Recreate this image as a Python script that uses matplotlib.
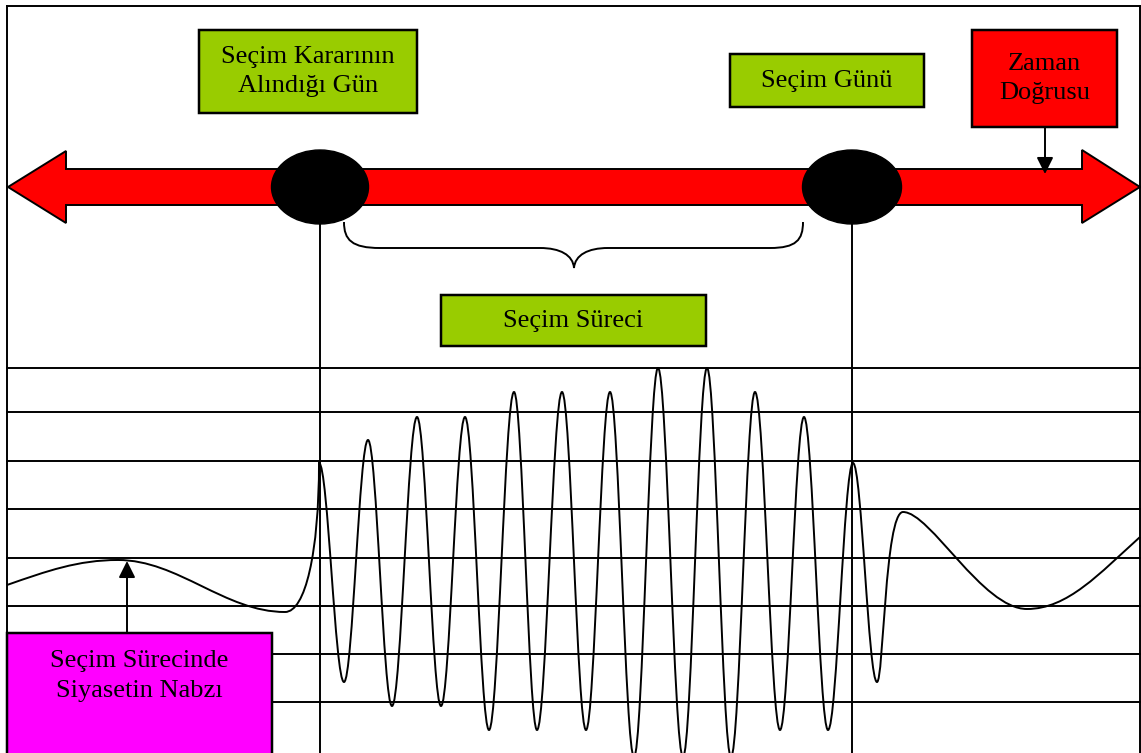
import matplotlib.pyplot as plt
from matplotlib.patches import Rectangle, Ellipse, Polygon, PathPatch
from matplotlib.path import Path

plt.rcParams['font.family'] = ['Liberation Serif', 'DejaVu Serif']

# diyagram pikselleri: x sağa, y aşağı doğru
W, H = 1141, 753

# yatay kılavuz çizgileri (y)
grid_y = [368, 412, 461, 509, 558, 606, 654, 702]
# dikey çizgiler: seçim kararı günü ve seçim günü
event_x = [320, 852]

# siyasetin nabzı eğrisi: uç noktalar (tepe / dip)
wave_x = [7, 118, 285, 319, 344, 368, 392, 417, 441, 465, 489, 514, 537, 562,
          586, 610, 634, 658, 683, 707, 731, 755, 780, 804, 828, 853, 877,
          903, 1027, 1140]
wave_y = [585, 560, 612, 463, 682, 440, 706, 417, 706, 417, 730, 392, 730, 392,
          730, 392, 757, 368, 757, 368, 757, 392, 730, 417, 730, 463, 682,
          512, 609, 537]
start_slope = -0.35
end_slope = -0.9

green = '#99CC00'
labels_green = ['Seçim Kararının\nAlındığı Gün', 'Seçim Günü', 'Seçim Süreci']
label_red = 'Zaman\nDoğrusu'
label_pink = 'Seçim Sürecinde\nSiyasetin Nabzı'

fig = plt.figure(figsize=(W / 100, H / 100), dpi=100)
ax = fig.add_axes([0, 0, 1, 1])
ax.set_xlim(0, W)
ax.set_ylim(H, 0)
ax.axis('off')

lw = 1.4

# çerçeve
ax.plot([7, 7], [H, 6], color='black', lw=lw)
ax.plot([7, 1140], [6, 6], color='black', lw=lw)
ax.plot([1140, 1140], [6, H], color='black', lw=lw)

for y in grid_y:
    ax.plot([7, 1140], [y, y], color='black', lw=lw, zorder=1)
for x in event_x:
    ax.plot([x, x], [222, H], color='black', lw=lw, zorder=1)

# eğri: uç noktalar arasında kübik Bezier, tepe/diplerde yatay teğet
k = 0.36
verts = [(wave_x[0], wave_y[0])]
codes = [Path.MOVETO]
n = len(wave_x)
for i in range(n - 1):
    x0, y0, x1, y1 = wave_x[i], wave_y[i], wave_x[i + 1], wave_y[i + 1]
    dx = x1 - x0
    s0 = start_slope if i == 0 else 0.0
    s1 = end_slope if i == n - 2 else 0.0
    c1 = (x0 + k * dx, y0 + s0 * k * dx)
    c2 = (x1 - k * dx, y1 - s1 * k * dx)
    if i == 2:
        # karar gününde ani yükseliş
        c1 = (x0 + 0.6 * dx, y0)
        c2 = (x1, y1 + 0.6 * (y0 - y1))
    elif i == n - 4:
        # seçimden sonra hızlı toparlanma, yuvarlak tepe
        c1 = (x0 + 0.25 * dx, y0)
        c2 = (x1 - 0.7 * dx, y1)
    elif i == n - 3:
        c1 = (x0 + 0.22 * dx, y0)
    verts += [c1, c2, (x1, y1)]
    codes += [Path.CURVE4] * 3
ax.add_patch(PathPatch(Path(verts, codes), fill=False, lw=lw, ec='black', zorder=2))

# zaman doğrusu (çift yönlü kırmızı ok)
arrow_pts = [(8, 187), (66, 151), (66, 169), (1082, 169), (1082, 150), (1140, 187),
             (1082, 223), (1082, 205), (66, 205), (66, 223)]
ax.add_patch(Polygon(arrow_pts, closed=True, fc='#FF0000', ec='black', lw=lw, zorder=3))

ax.add_patch(Ellipse((320, 187), 97, 74, fc='black', ec='black', zorder=4))
ax.add_patch(Ellipse((852, 187), 99, 74, fc='black', ec='black', zorder=4))

# küme parantezi
brace = Path([(344, 222), (344, 240), (352, 248), (380, 248), (540, 248),
              (560, 248), (573, 255), (574, 268),
              (575, 255), (588, 248), (608, 248), (770, 248),
              (796, 248), (803, 240), (803, 222)],
             [Path.MOVETO, Path.CURVE4, Path.CURVE4, Path.CURVE4, Path.LINETO,
              Path.CURVE4, Path.CURVE4, Path.CURVE4,
              Path.CURVE4, Path.CURVE4, Path.CURVE4, Path.LINETO,
              Path.CURVE4, Path.CURVE4, Path.CURVE4])
ax.add_patch(PathPatch(brace, fill=False, lw=lw, ec='black', zorder=3))


def box(x0, y0, x1, y1, color, text, ty=None):
    ax.add_patch(Rectangle((x0, y0), x1 - x0, y1 - y0, fc=color, ec='black',
                           lw=lw + 0.4, zorder=5))
    if ty is None:
        ty = (y0 + y1) / 2
    ax.text((x0 + x1) / 2, ty, text, ha='center', va='center', fontsize=19,
            color='black', linespacing=1.45, zorder=6)


box(199, 30, 417, 113, green, labels_green[0])
box(730, 54, 924, 107, green, labels_green[1])
box(441, 295, 706, 346, green, labels_green[2])
box(972, 30, 1117, 127, '#FF0000', label_red)
box(7, 633, 272, 770, '#FF00FF', label_pink, ty=676)

# oklar
head = '-|>,head_length=1.0,head_width=0.5'
ax.annotate('', xy=(1045, 174), xytext=(1045, 127),
            arrowprops=dict(arrowstyle=head, color='black', lw=lw,
                            shrinkA=0, shrinkB=0), zorder=6)
ax.annotate('', xy=(127, 561), xytext=(127, 633),
            arrowprops=dict(arrowstyle=head, color='black', lw=lw,
                            shrinkA=0, shrinkB=0), zorder=6)

fig.savefig('out.png', dpi=100)
